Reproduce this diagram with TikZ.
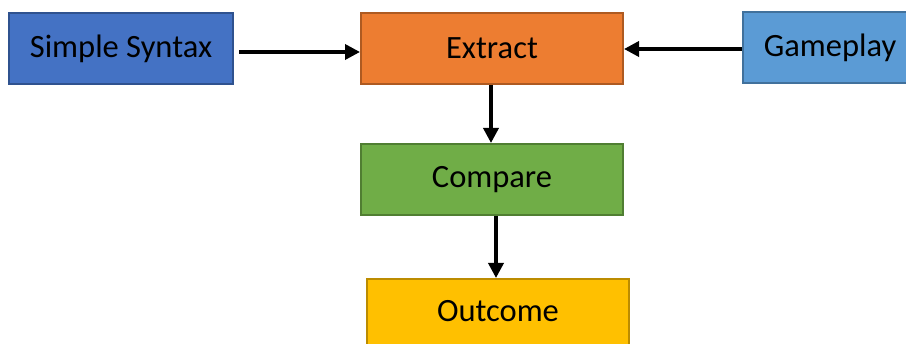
\documentclass[tikz,border=0pt]{standalone}
\usepackage{fontspec}
\setmainfont{Carlito}
\usetikzlibrary{arrows.meta}
\definecolor{syntaxfill}{HTML}{4472C4}
\definecolor{syntaxline}{HTML}{2F528F}
\definecolor{extractfill}{HTML}{ED7D31}
\definecolor{extractline}{HTML}{AE5A21}
\definecolor{gamefill}{HTML}{5B9BD5}
\definecolor{gameline}{HTML}{41719C}
\definecolor{comparefill}{HTML}{70AD47}
\definecolor{compareline}{HTML}{507E32}
\definecolor{outcomefill}{HTML}{FFC000}
\definecolor{outcomeline}{HTML}{BC8C00}
\begin{document}
\begin{tikzpicture}[x=1pt,y=-1pt,
  box/.style={draw, line width=2pt, minimum height=71pt, inner sep=0pt,
    font=\fontsize{32.5}{38}\selectfont, text=black},
  link/.style={line width=3.5pt, -{Triangle[length=15pt,width=15pt]}}]
\useasboundingbox (0,0) rectangle (906,344);
\clip (0,0) rectangle (906,344);
\fill[white] (0,0) rectangle (906,344);

% process boxes
\node[box, fill=syntaxfill, draw=syntaxline, minimum width=224pt] (syntax) at (121,48.5) {Simple Syntax};
\node[box, fill=extractfill, draw=extractline, minimum width=262pt] (extract) at (492,48.5) {Extract};
\node[box, fill=gamefill, draw=gameline, minimum width=174pt] (game) at (830,47.5) {Gameplay};
\node[box, fill=comparefill, draw=compareline, minimum width=262pt] (compare) at (492,179.5) {Compare};
\node[box, fill=outcomefill, draw=outcomeline, minimum width=262pt,
  text height=22pt, text depth=7pt] (outcome) at (498,314.5) {Outcome};

% connectors
\draw[link] ([xshift=5pt,yshift=-3.5pt]syntax.east) -- ([yshift=-3.5pt]extract.west);
\draw[link] ([yshift=-1.5pt]game.west) -- ([yshift=-1.5pt]extract.east |- game.west);
\draw[link] ([xshift=-1pt]extract.south) -- ([xshift=-1pt]compare.north);
\draw[link] ([xshift=4pt]compare.south) -- ([xshift=4pt]compare.south |- outcome.north);
\end{tikzpicture}
\end{document}
